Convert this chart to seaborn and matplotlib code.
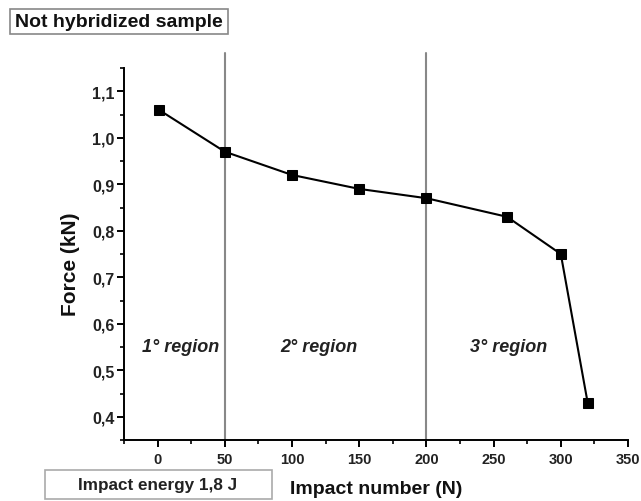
import matplotlib
matplotlib.use("Agg")
import matplotlib.pyplot as plt
import seaborn as sns
import pandas as pd
from matplotlib.ticker import MultipleLocator, FuncFormatter
from matplotlib.patches import Rectangle

impact_number = [1, 50, 100, 150, 200, 260, 300, 320]
force_kn = [1.06, 0.97, 0.92, 0.89, 0.87, 0.83, 0.75, 0.43]
region_bounds = [50, 200]
region_labels = ["1° region", "2° region", "3° region"]
region_label_x = [17, 120, 261]

sns.set_theme(style="ticks")
plt.rcParams['font.family'] = ['Liberation Sans', 'DejaVu Sans']

df = pd.DataFrame({"N": impact_number, "F": force_kn})

W, H = 641, 502
fig = plt.figure(figsize=(W / 100, H / 100), dpi=100)
ax = fig.add_axes([124 / W, 1 - 441 / H, 504 / W, 372 / H])

for b in region_bounds:
    ax.axvline(b, ymin=0, ymax=1.04, color="#888888", lw=1.5, clip_on=False, zorder=1)

sns.lineplot(data=df, x="N", y="F", ax=ax, color="black", lw=1.5,
             marker="s", markersize=6.5, markeredgecolor="black", zorder=3)

ax.set_xlim(-25, 350)
ax.set_ylim(0.35, 1.15)
ax.xaxis.set_major_locator(MultipleLocator(50))
ax.xaxis.set_minor_locator(MultipleLocator(25))
ax.yaxis.set_minor_locator(MultipleLocator(0.05))
ax.set_yticks([0.4, 0.5, 0.6, 0.7, 0.8, 0.9, 1.0, 1.1])
ax.yaxis.set_major_formatter(FuncFormatter(lambda v, p: f"{v:.1f}".replace(".", ",")))
ax.xaxis.set_major_formatter(FuncFormatter(lambda v, p: f"{v:.0f}"))
ax.tick_params(axis="both", which="major", direction="out", length=5, width=1.4,
               colors="black")
ax.tick_params(axis="x", which="major", labelsize=10.5, pad=4)
ax.tick_params(axis="y", which="major", labelsize=11.5, pad=2)
ax.tick_params(axis="both", which="minor", direction="out", length=3, width=1.2, colors="black")
for lab in ax.get_xticklabels() + ax.get_yticklabels():
    lab.set_fontweight("bold")
    lab.set_color("#222222")

sns.despine(ax=ax)
for s in ["left", "bottom"]:
    ax.spines[s].set_linewidth(1.4)
    ax.spines[s].set_color("black")

ax.set_xlabel("")
ax.set_ylabel("")
fig.text(376 / W, 1 - 490 / H, "Impact number (N)", fontsize=14, fontweight="bold",
         ha="center", va="center", color="#111111")
fig.text(70 / W, 1 - 264 / H, "Force (kN)", fontsize=15, fontweight="bold",
         ha="center", va="center", rotation=90, color="#111111")

for x, t in zip(region_label_x, region_labels):
    ax.text(x, 0.55, t, ha="center", va="center", fontsize=13,
            fontweight="bold", fontstyle="italic", color="#222222")

fig.patches.append(Rectangle((10 / W, 1 - 35 / H), 218 / W, 25 / H, transform=fig.transFigure,
                             fc="white", ec="#888888", lw=1.2))
fig.text(119 / W, 1 - 22.5 / H, "Not hybridized sample", fontsize=14, fontweight="bold",
         ha="center", va="center", color="#111111")
fig.patches.append(Rectangle((45 / W, 1 - 500 / H), 227 / W, 29 / H, transform=fig.transFigure,
                             fc="white", ec="#aaaaaa", lw=1.2))
fig.text(158 / W, 1 - 486 / H, "Impact energy 1,8 J", fontsize=12.3, fontweight="bold",
         ha="center", va="center", color="#222222")

fig.savefig("out.png", dpi=100)
